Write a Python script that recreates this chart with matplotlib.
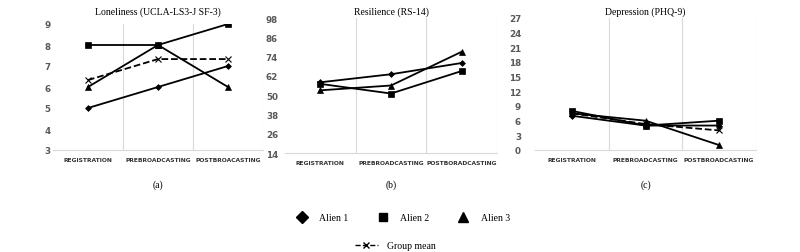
import matplotlib
matplotlib.use("Agg")
import matplotlib.pyplot as plt
from matplotlib.lines import Line2D

# --- data ---
phases_a = ["REGISTRATION", "PREBROADCASTING", "POSTBROACASTING"]
phases_b = ["REGISTRATION", "PREBROADCASTING", "POSTBORADCASTING"]
phases_c = ["REGISTRATION", "PREBROADCASTING", "POSTBROADCASTING"]

lonely_alien1 = [5, 6, 7]
lonely_alien2 = [8, 8, 9]
lonely_alien3 = [6, 8, 6]
lonely_mean = [6.33, 7.33, 7.33]

resil_alien1 = [58, 63, 70]
resil_alien2 = [57, 51, 65]
resil_alien3 = [53, 56, 77]

depr_alien1 = [7, 5, 5]
depr_alien2 = [8, 5, 6]
depr_alien3 = [7.5, 6, 1]
depr_mean = [7.5, 5.3, 4]

titles = ["Loneliness (UCLA-LS3-J SF-3)", "Resilience (RS-14)", "Depression (PHQ-9)"]
panel_tags = ["(a)", "(b)", "(c)"]

W, H = 800, 253
SERIF = "Liberation Serif"
GRID = "#d9d9d9"
TICK = "#595959"

fig = plt.figure(figsize=(W / 100, H / 100), dpi=100)


def px_axes(left, right, top, bottom):
    return fig.add_axes([left / W, 1 - bottom / H, (right - left) / W, (bottom - top) / H])


def style(ax, labels, ylim, yticks, title, tag, ypad):
    ax.set_xlim(-0.5, 2.5)
    ax.set_ylim(*ylim)
    ax.set_yticks(yticks)
    ax.set_xticks(range(3))
    ax.set_xticklabels(labels, fontsize=4.3, fontweight="bold", color="#333333")
    for lab in ax.get_yticklabels():
        lab.set_fontsize(6.3)
        lab.set_color(TICK)
        lab.set_fontweight("bold")
    ax.tick_params(axis="y", length=0, pad=ypad)
    ax.tick_params(axis="x", length=0, pad=5)
    for s in ["left", "top", "right"]:
        ax.spines[s].set_visible(False)
    ax.spines["bottom"].set_color(GRID)
    ax.spines["bottom"].set_linewidth(0.8)
    for xv in [0.5, 1.5, 2.5]:
        ax.axvline(xv, color=GRID, lw=0.8, zorder=0)
    # title and panel tag at fixed figure heights
    bb = ax.get_position()
    cx = (bb.x0 + bb.x1) / 2
    fig.text(cx, 1 - 12 / H, title, ha="center", va="center", fontsize=7, family=SERIF)
    fig.text(cx, 1 - 185 / H, tag, ha="center", va="center", fontsize=7, family=SERIF)


def series(ax, y, marker, ms, dashed=False):
    ax.plot(range(3), y, color="black", lw=1.3, ls="--" if dashed else "-",
            marker=marker, ms=ms, mfc="none" if marker == "x" else "black",
            mec="black", mew=0.8 if marker == "x" else 0.5, zorder=3)


# (a) Loneliness
ax_a = px_axes(53, 263, 25, 151)
series(ax_a, lonely_alien1, "D", 3)
series(ax_a, lonely_alien2, "s", 4.5)
series(ax_a, lonely_alien3, "^", 4.5)
series(ax_a, lonely_mean, "x", 4, dashed=True)
style(ax_a, phases_a, (3, 9), range(3, 10), titles[0], panel_tags[0], 2)

# (b) Resilience
ax_b = px_axes(285, 497, 19, 154)
series(ax_b, resil_alien1, "D", 3)
series(ax_b, resil_alien2, "s", 4.5)
series(ax_b, resil_alien3, "^", 4.5)
style(ax_b, phases_b, (14, 98), range(14, 99, 12), titles[1], panel_tags[1], 5)

# (c) Depression
ax_c = px_axes(535, 756, 19, 151)
series(ax_c, depr_alien1, "D", 3)
series(ax_c, depr_alien2, "s", 4.5)
series(ax_c, depr_alien3, "^", 4.5)
series(ax_c, depr_mean, "x", 4, dashed=True)
style(ax_c, phases_c, (0, 27), range(0, 28, 3), titles[2], panel_tags[2], 10)

# legend
row1 = [Line2D([], [], ls="none", marker="D", ms=6, color="black"),
        Line2D([], [], ls="none", marker="s", ms=6, color="black"),
        Line2D([], [], ls="none", marker="^", ms=7, color="black")]
fig.legend(handles=row1, labels=["Alien 1", "Alien 2", "Alien 3"], ncol=3,
           loc="center", bbox_to_anchor=(403 / W, 1 - 219 / H), frameon=False,
           prop={"family": SERIF, "size": 7}, handlelength=1.2, handletextpad=1.2,
           columnspacing=2.9)
row2 = [Line2D([], [], ls="--", lw=1, marker="x", ms=4, color="black")]
fig.legend(handles=row2, labels=["Group mean"], loc="center",
           bbox_to_anchor=(395 / W, 1 - 247 / H), frameon=False,
           prop={"family": SERIF, "size": 7}, handlelength=2.4, handletextpad=0.9)

fig.savefig("out.png", dpi=100)
